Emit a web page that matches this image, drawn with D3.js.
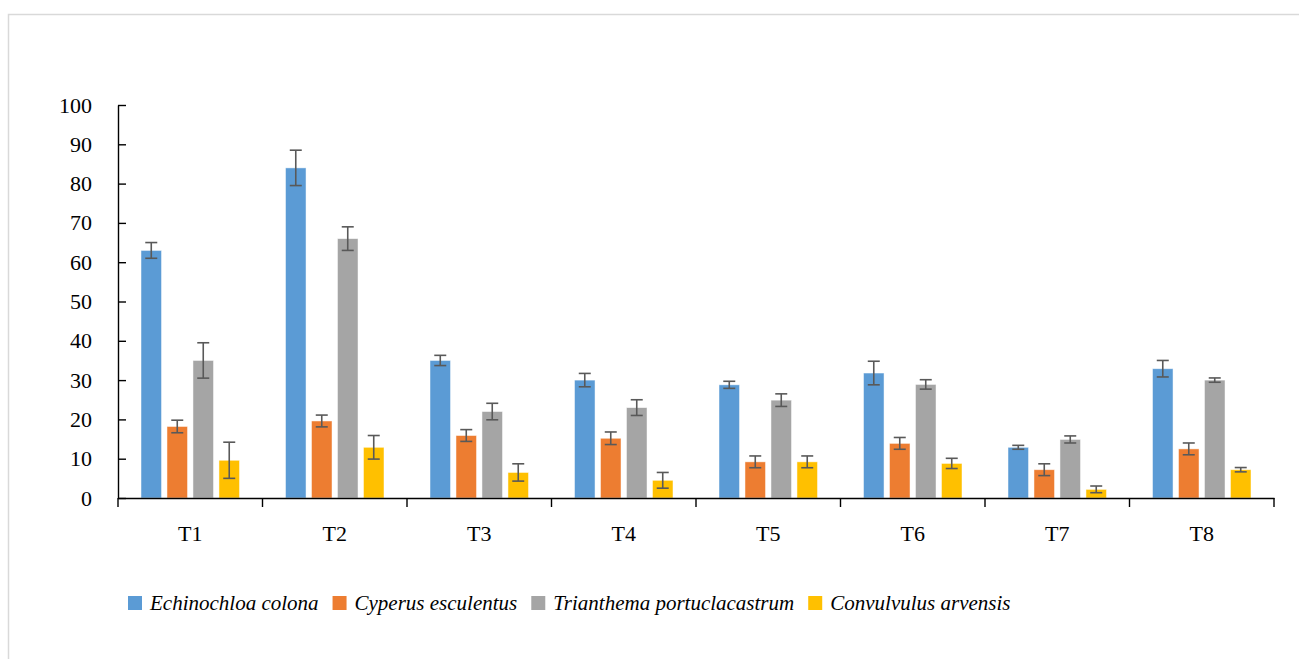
<!DOCTYPE html>
<html>
<head>
<meta charset="utf-8">
<script src="https://cdn.jsdelivr.net/npm/d3@7"></script>
<style>
  body { margin: 0; background: #fff; }
  svg { display: block; }
  svg text { font-family: "Liberation Serif", "Times New Roman", Times, serif !important; }
</style>
</head>
<body>
<svg id="chart" width="1299" height="659"></svg>
<script>
// treatments
categories = ["T1", "T2", "T3", "T4", "T5", "T6", "T7", "T8"];
series = ["Echinochloa colona", "Cyperus esculentus", "Trianthema portuclacastrum", "Convulvulus arvensis"];
colors = ["#5b9bd5", "#ed7d31", "#a5a5a5", "#ffc000"];

// means, one array per species
echinochloa = [63, 84, 35, 30, 28.8, 31.8, 12.9, 32.9];
cyperus = [18.2, 19.6, 15.9, 15.2, 9.2, 13.9, 7.2, 12.5];
trianthema = [35, 66, 22, 23, 24.9, 28.9, 14.9, 30];
convulvulus = [9.6, 12.9, 6.5, 4.5, 9.2, 8.8, 2.2, 7.2];

// error bar half widths
echinochloaErr = [2, 4.5, 1.3, 1.7, 0.9, 3, 0.5, 2.1];
cyperusErr = [1.6, 1.5, 1.5, 1.6, 1.5, 1.5, 1.5, 1.5];
trianthemaErr = [4.5, 3, 2.1, 2, 1.6, 1.2, 0.9, 0.55];
convulvulusErr = [4.6, 3, 2.2, 2, 1.5, 1.3, 0.85, 0.55];

yTicks = [0, 10, 20, 30, 40, 50, 60, 70, 80, 90, 100];

function drawChart() {
  let values = [echinochloa, cyperus, trianthema, convulvulus];
  let errors = [echinochloaErr, cyperusErr, trianthemaErr, convulvulusErr];

  let svg = d3.select("#chart");

  // light frame round the chart area
  svg.append("rect")
    .attr("x", 8.5).attr("y", 14.5)
    .attr("width", 1320).attr("height", 700)
    .attr("fill", "none")
    .attr("stroke", "#d9d9d9")
    .attr("stroke-width", 1.5);

  let padLeft = 118, padRight = 1274, padTop = 105, padBottom = 498;
  let fontSize = 22;

  let xScale = d3.scaleBand().domain(categories).range([padLeft, padRight]);
  let subScale = d3.scaleBand().domain(series).range([-49.25, 49.25]).paddingInner(0.21);
  let yScale = d3.scaleLinear().domain([0, 100]).range([padBottom, padTop]);

  // bars
  series.forEach((s, si) => {
    let g = svg.append("g");
    g.selectAll("rect")
      .data(values[si])
      .join("rect")
      .attr("x", (d, i) => xScale(categories[i]) + xScale.bandwidth() / 2 + subScale(s))
      .attr("y", (d) => yScale(d))
      .attr("width", subScale.bandwidth())
      .attr("height", (d) => padBottom - yScale(d))
      .attr("fill", colors[si])
      .attr("stroke", "#ffffff")
      .attr("stroke-opacity", 0.6)
      .attr("stroke-width", 0.8);
  });

  // error bars
  series.forEach((s, si) => {
    let g = svg.append("g").attr("stroke", "#595959").attr("stroke-width", 1.6).attr("fill", "none");
    values[si].forEach((v, i) => {
      let cx = xScale(categories[i]) + xScale.bandwidth() / 2 + subScale(s) + subScale.bandwidth() / 2;
      let hi = yScale(v + errors[si][i]);
      let lo = yScale(v - errors[si][i]);
      g.append("line").attr("x1", cx).attr("x2", cx).attr("y1", hi).attr("y2", lo);
      g.append("line").attr("x1", cx - 6).attr("x2", cx + 6).attr("y1", hi).attr("y2", hi);
      g.append("line").attr("x1", cx - 6).attr("x2", cx + 6).attr("y1", lo).attr("y2", lo);
    });
  });

  // y axis, ticks point inwards
  let yAxis = d3.axisLeft(yScale)
    .tickValues(yTicks)
    .tickSizeInner(-8)
    .tickSizeOuter(0)
    .tickPadding(26);

  let yG = svg.append("g")
    .attr("transform", "translate(" + padLeft + ",0)")
    .call(yAxis)
    .attr("font-size", fontSize);
  yG.selectAll("text").attr("fill", "#000");
  yG.selectAll("line,path").attr("stroke", "#000").attr("stroke-width", 1.4);

  // x axis: labels centred, ticks at band borders
  let xAxis = d3.axisBottom(xScale).tickSize(0).tickPadding(27);
  let xG = svg.append("g")
    .attr("transform", "translate(0," + padBottom + ")")
    .call(xAxis)
    .attr("font-size", fontSize);
  xG.selectAll("text").attr("fill", "#000");
  xG.select(".domain").attr("stroke", "#000").attr("stroke-width", 1.4);

  let borders = categories.map((c) => xScale(c)).concat([padRight]);
  xG.selectAll(".border")
    .data(borders)
    .join("line")
    .attr("class", "border")
    .attr("x1", (d) => d).attr("x2", (d) => d)
    .attr("y1", 0).attr("y2", 9)
    .attr("stroke", "#000")
    .attr("stroke-width", 1.4);

  // legend
  let legend = svg.append("g")
    .attr("transform", "translate(128,596)")
    .attr("font-size", 21);
  let lx = 0;
  series.forEach((s, si) => {
    legend.append("rect")
      .attr("x", lx).attr("y", 0)
      .attr("width", 14).attr("height", 14)
      .attr("fill", colors[si]);
    let t = legend.append("text")
      .attr("x", lx + 22).attr("y", 14)
      .attr("font-style", "italic")
      .attr("fill", "#000")
      .text(s);
    lx += 22 + t.node().getComputedTextLength() + 14;
  });
}

drawChart();
</script>
</body>
</html>
